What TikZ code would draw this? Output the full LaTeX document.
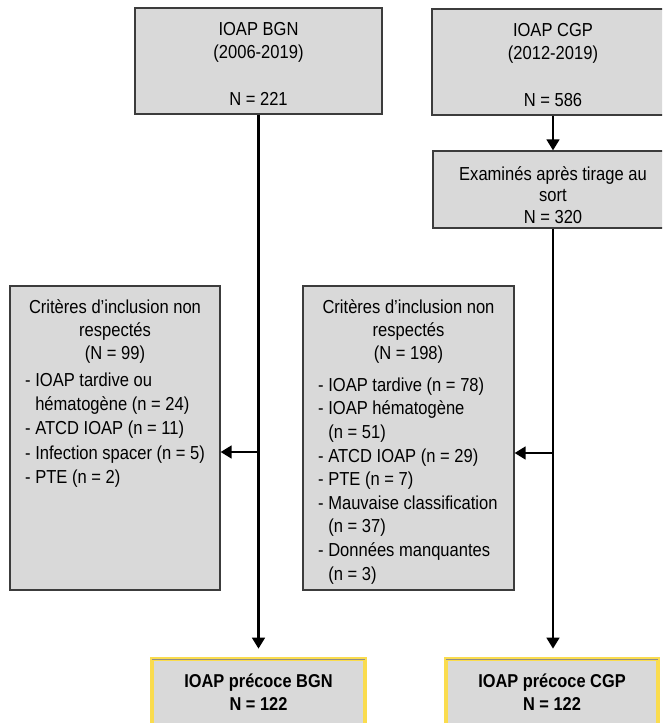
\documentclass[tikz,border=0pt]{standalone}
\usepackage{fontspec}
\setmainfont{Liberation Sans}[FakeStretch=0.88]
\usetikzlibrary{arrows.meta,calc}
\definecolor{boxgrey}{HTML}{D9D9D9}
\definecolor{boxedge}{HTML}{3C3C3C}
\definecolor{goldedge}{HTML}{FADC4E}
\newcommand\linetopstrut{\rule{0pt}{14.5pt}}
\begin{document}
\begin{tikzpicture}[x=1pt,y=-1pt,
  greybox/.style={draw=boxedge,fill=boxgrey,line width=1.1pt,inner sep=0pt},
  finalbox/.style={draw=goldedge,fill=boxgrey,line width=3.6pt,inner sep=0pt},
  flow/.style={line width=2.8pt,-{Triangle[width=12.5pt,length=11pt]}},
  body/.style={font=\fontsize{18.8}{23.3}\selectfont,inner sep=0pt},
  head/.style={body,align=center},
  listtext/.style={inner sep=0pt,align=left},
  boldtext/.style={font=\bfseries\fontsize{18.6}{23}\selectfont,inner sep=0pt,align=center},
]
\clip (0,0) rectangle (662,723);

% boxes
\node[greybox,minimum width=247pt,minimum height=106pt] (b1) at (258.5,61) {};
\node[greybox,minimum width=242pt,minimum height=106pt] (b2) at (553,62) {};
\node[greybox,minimum width=240pt,minimum height=77pt] (b3) at (553,189.5) {};
\node[greybox,minimum width=210pt,minimum height=304pt] (c1) at (115,438) {};
\node[greybox,minimum width=211pt,minimum height=304pt] (c2) at (408.5,438) {};
\node[finalbox,minimum width=213.4pt,minimum height=70pt] (f1) at (258.5,694) {};
\node[finalbox,minimum width=212.4pt,minimum height=70pt] (f2) at (552,694) {};
\draw[black!45,line width=1.2pt] ($(f1.north west)+(1.8,2.6)$) -- ($(f1.north east)+(-1.8,2.6)$);
\draw[black!45,line width=1.2pt] ($(f2.north west)+(1.8,2.6)$) -- ($(f2.north east)+(-1.8,2.6)$);

% texts
\node[head,anchor=north] (t1) at (258.5,20.5) {\linetopstrut IOAP BGN\\(2006-2019)\\[23.3pt]N = 221};
\node[head,anchor=north] (t2) at (553,21.5) {\linetopstrut IOAP CGP\\(2012-2019)\\[23.3pt]N = 586};
\node[head,anchor=north,font=\fontsize{18.8}{21.5}\selectfont] (t3) at (553,165.5) {\linetopstrut Examinés après tirage au\\sort\\N = 320};

\node[head,anchor=north] (h1) at (115,298.5) {\linetopstrut Critères d’inclusion non\\respectés\\(N = 99)};
\node[listtext,anchor=north west,font=\fontsize{18.8}{24.3}\selectfont] (l1) at (25,371.5)
  {\linetopstrut - IOAP tardive ou\\\hspace*{10.1pt}hématogène (n = 24)\\- ATCD IOAP (n = 11)\\- Infection spacer (n = 5)\\- PTE (n = 2)};

\node[head,anchor=north] (h2) at (408.5,298.5) {\linetopstrut Critères d’inclusion non\\respectés\\(N = 198)};
\node[listtext,anchor=north west,font=\fontsize{18.8}{23.6}\selectfont] (l2) at (318,376.5)
  {\linetopstrut - IOAP tardive (n = 78)\\- IOAP hématogène\\\hspace*{10.1pt}(n = 51)\\- ATCD IOAP (n = 29)\\- PTE (n = 7)\\- Mauvaise classification\\\hspace*{10.1pt}(n = 37)\\- Données manquantes\\\hspace*{10.1pt}(n = 3)};

\node[boldtext,anchor=north] (ft1) at (258.5,672.5) {\linetopstrut IOAP précoce BGN\\N = 122};
\node[boldtext,anchor=north] (ft2) at (552,672.5) {\linetopstrut IOAP précoce CGP\\N = 122};

% connectors
\draw[flow,shorten >=8.5pt] (b1.south) -- (b1.south |- f1.north);
\draw[flow] (b2.south) -- (b3.north);
\draw[flow,shorten >=8.5pt] (b3.south) -- (b3.south |- f2.north);
\coordinate (jl) at (258.5,452);
\coordinate (jr) at (553,453);
\draw[flow] (jl) -- (jl -| c1.east);
\draw[flow] (jr) -- (jr -| c2.east);
\end{tikzpicture}
\end{document}
